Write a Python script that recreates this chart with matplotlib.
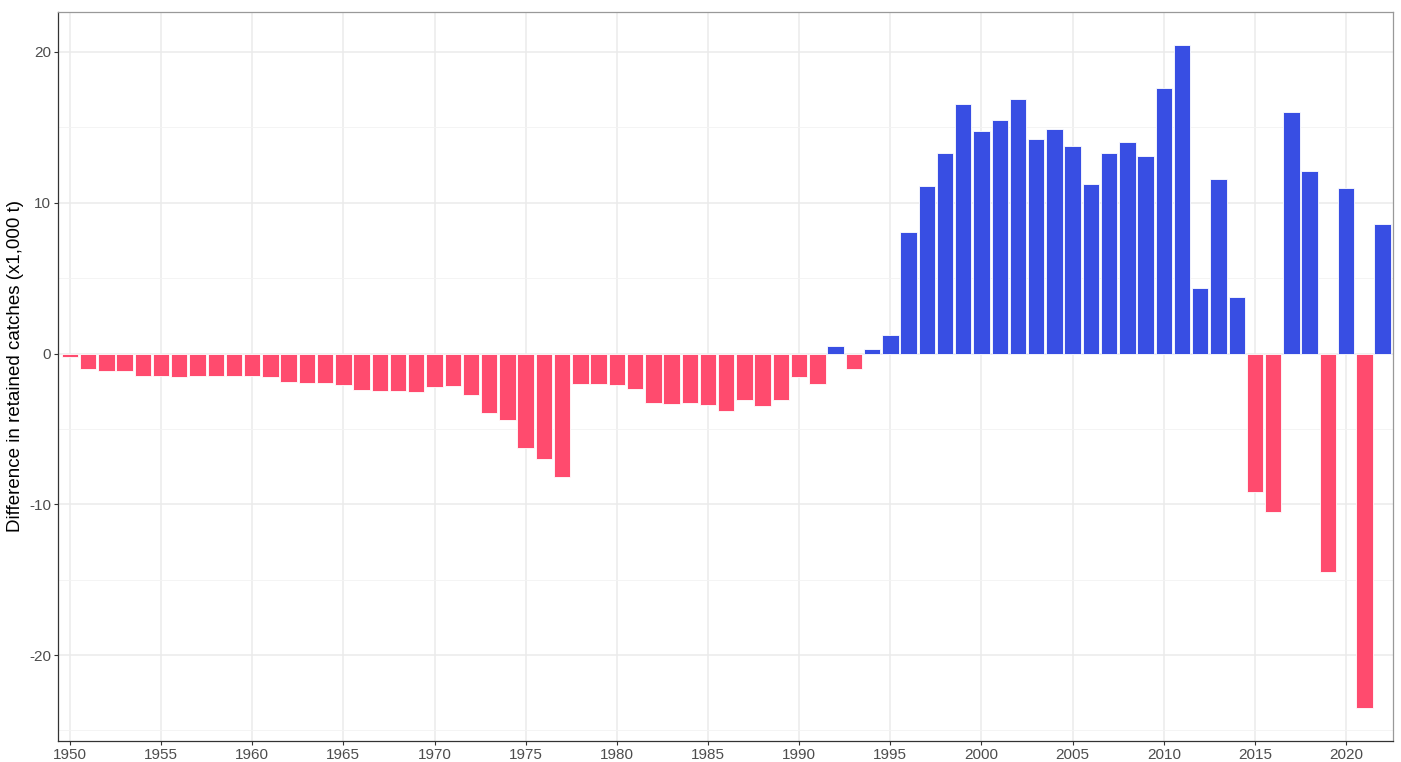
import matplotlib.pyplot as plt
import numpy as np

plt.rcParams['font.family'] = ['Liberation Sans', 'DejaVu Sans']
plt.rcParams['axes.unicode_minus'] = False

# Years and difference in retained catches (x1,000 t)
years = list(range(1950, 2023))
diff = [-0.2, -1.06, -1.15, -1.19, -1.46, -1.46, -1.55, -1.46, -1.46, -1.46,
        -1.46, -1.57, -1.90, -1.96, -1.98, -2.09, -2.42, -2.49, -2.47, -2.56,
        -2.25, -2.16, -2.72, -3.95, -4.39, -6.27, -6.97, -8.21, -1.99, -2.03,
        -2.09, -2.34, -3.25, -3.36, -3.29, -3.44, -3.80, -3.08, -3.47, -3.08,
        -1.57, -2.00, 0.49, -1.06, 0.30, 1.26, 8.03, 11.13, 13.33, 16.56,
        14.79, 15.52, 16.86, 14.24, 14.87, 13.75, 11.26, 13.33, 14.04, 13.13,
        17.62, 20.46, 4.34, 11.59, 3.77, -9.20, -10.50, 16.05, 12.12, -14.52,
        11.01, -23.50, 8.61]

RED = '#FF4B6E'
BLUE = '#384EE3'
colors = [BLUE if v > 0 else RED for v in diff]

fig = plt.figure(figsize=(14.01, 7.62), dpi=100)
ax = fig.add_axes([58/1401, 21/762, (1393-58)/1401, (741-12)/762])

ax.bar(years, diff, width=0.9, color=colors, edgecolor='white', linewidth=0.6, zorder=3)

ax.set_xlim(1949.35, 2022.57)
ax.set_ylim(-25.7, 22.65)

ax.set_xticks(range(1950, 2021, 5))
ax.set_yticks([-20, -10, 0, 10, 20])
ax.set_yticks([-25, -15, -5, 5, 15], minor=True)

ax.grid(which='major', color='#EBEBEB', linewidth=1.1, zorder=0)
ax.grid(which='minor', axis='y', color='#F3F3F3', linewidth=0.6, zorder=0)

ax.spines['left'].set_color('#333333')
ax.spines['bottom'].set_color('#333333')
ax.spines['top'].set_color('#999999')
ax.spines['right'].set_color('#999999')
for s in ax.spines.values():
    s.set_linewidth(0.9)

ax.tick_params(axis='both', which='major', colors='#333333', labelcolor='#4D4D4D',
               labelsize=11, length=3, width=0.8, pad=2)
ax.tick_params(axis='y', which='minor', length=0)

ax.set_ylabel('Difference in retained catches (x1,000 t)', fontsize=13.5, color='black')
ax.yaxis.set_label_coords(-0.0255, 0.514)

fig.savefig('out.png', dpi=100)
